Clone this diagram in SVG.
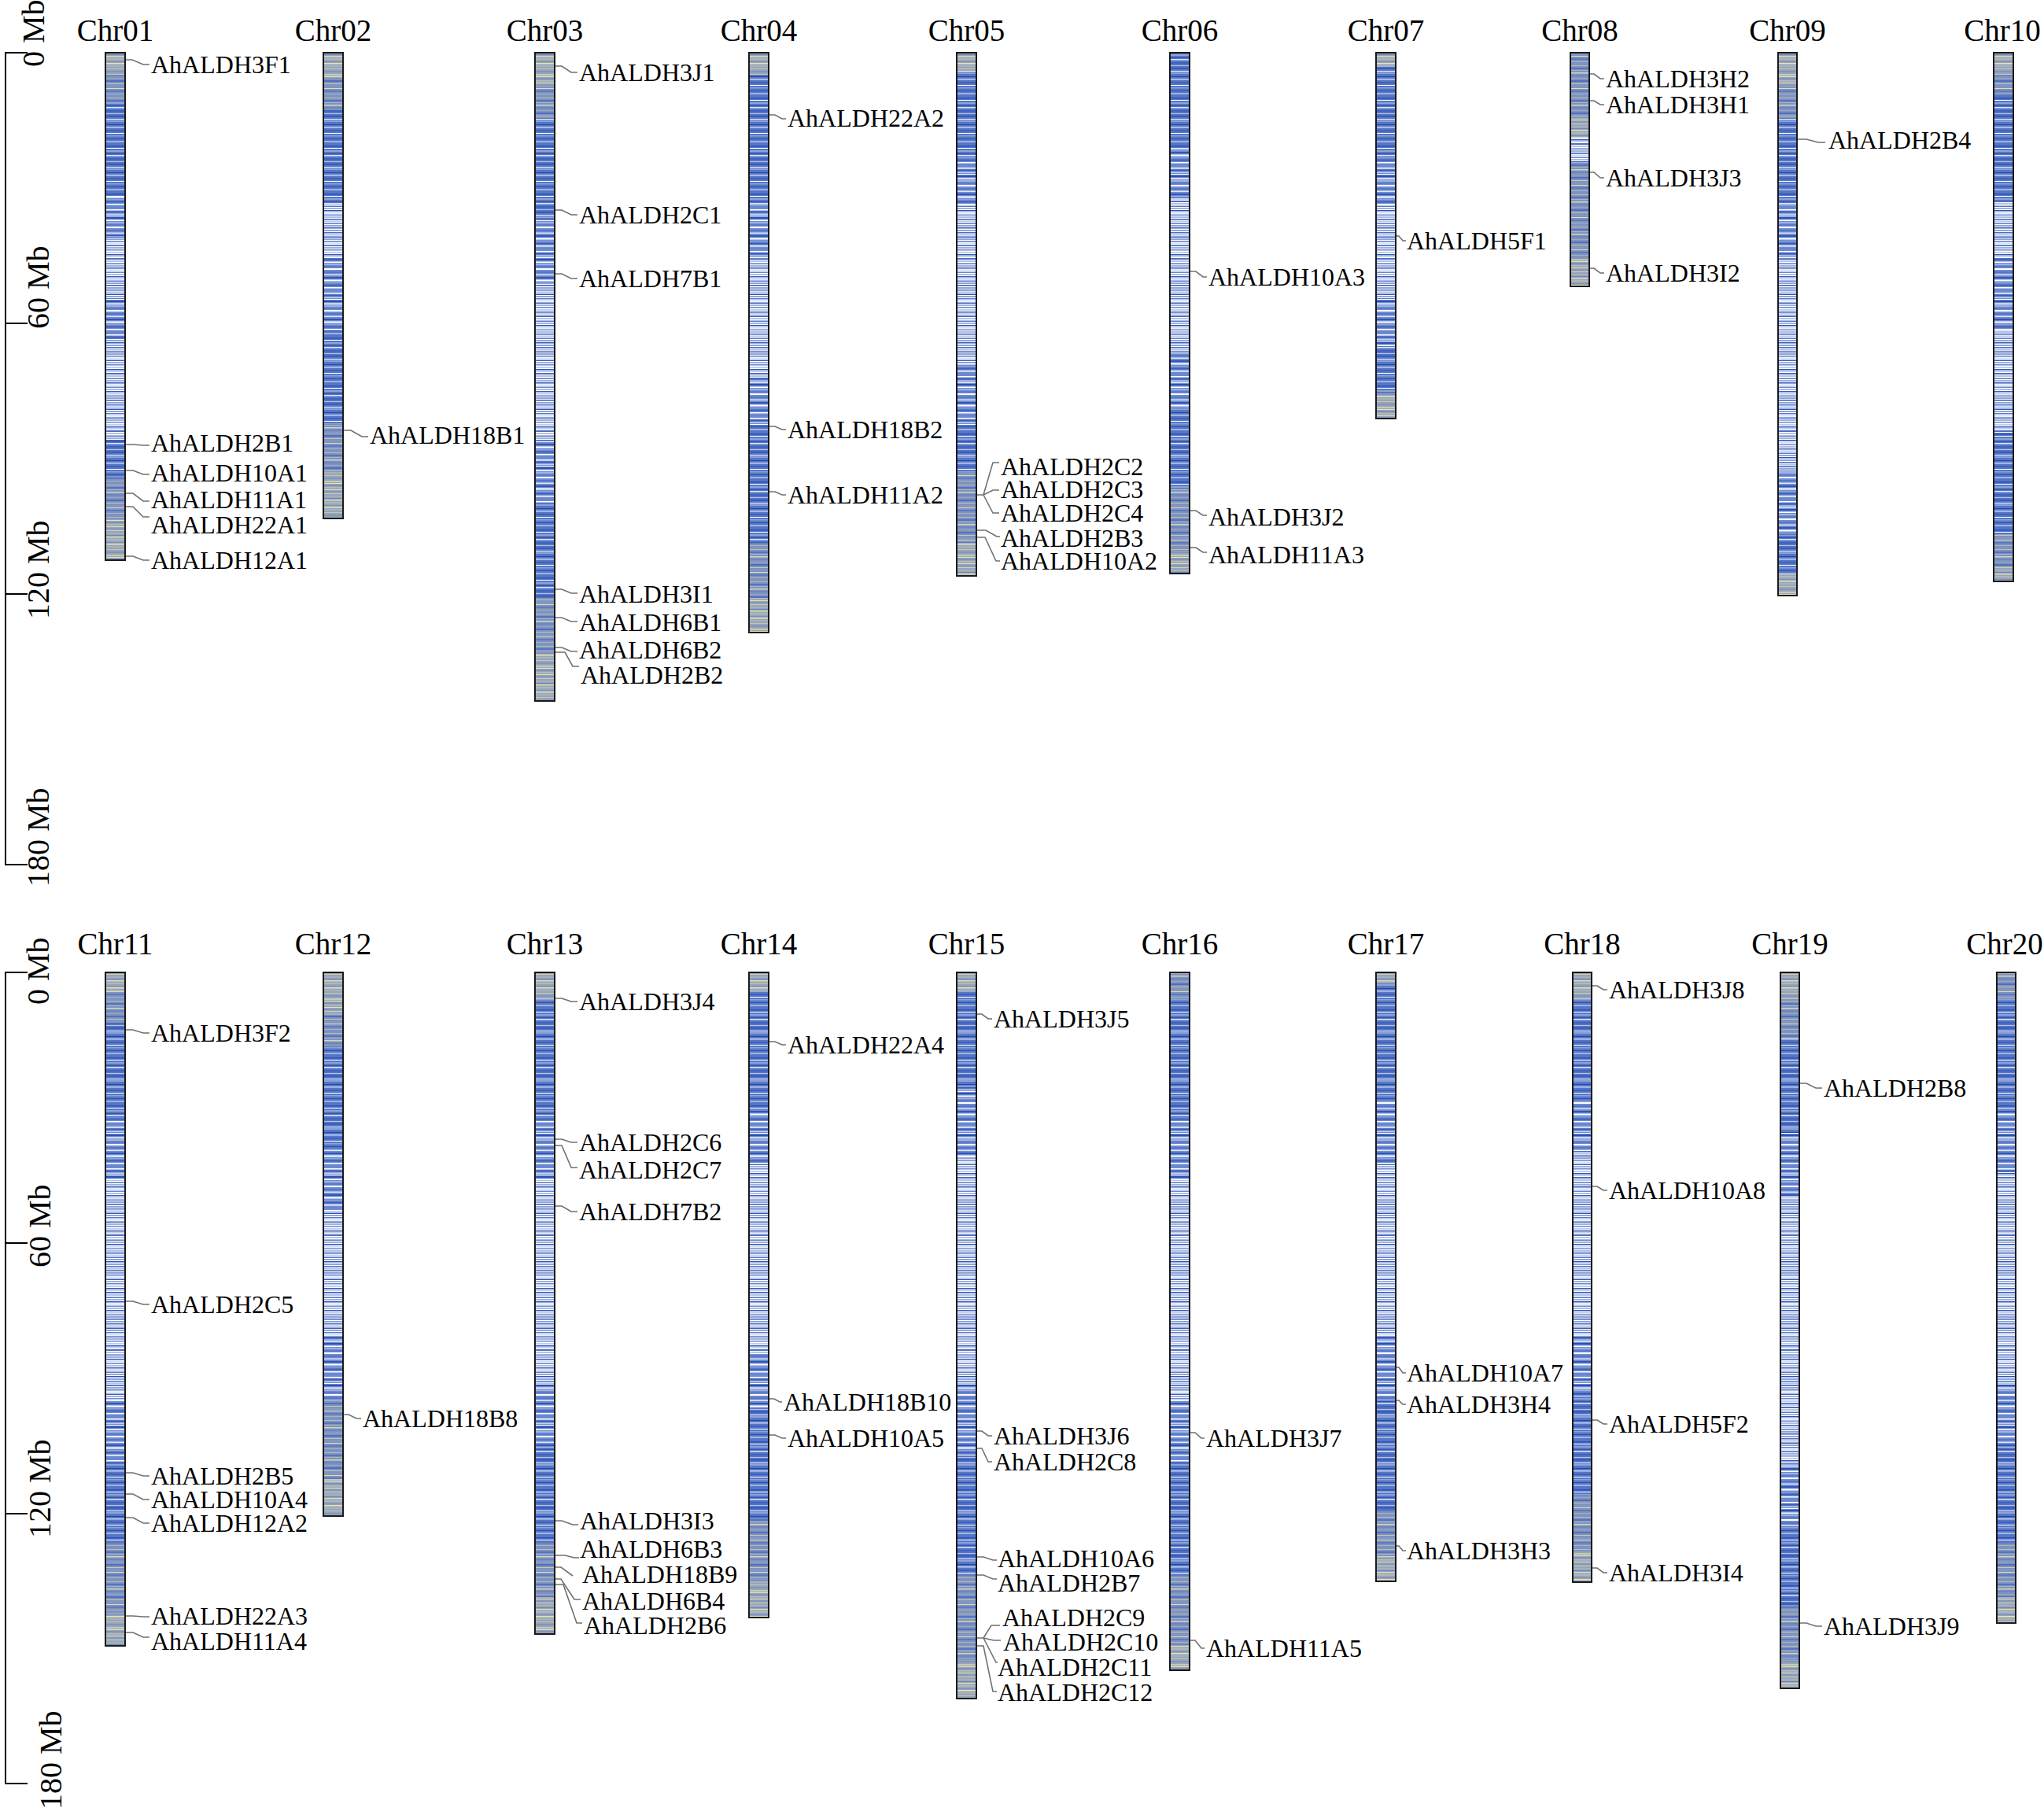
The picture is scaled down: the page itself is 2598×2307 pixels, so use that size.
<svg xmlns="http://www.w3.org/2000/svg" width="2598" height="2307" viewBox="0 0 2598 2307">
<style>
.cl{font-family:"Liberation Serif","Times New Roman",serif;font-size:39px;text-anchor:middle;fill:#000}
.gl{font-family:"Liberation Serif","Times New Roman",serif;font-size:32px;fill:#000}
.ax{font-family:"Liberation Serif","Times New Roman",serif;font-size:40px;fill:#000}
.cn{fill:none;stroke:#707070;stroke-width:1.6}
.ol{fill:none;stroke:#1a1a1a;stroke-width:2}
.axl{fill:none;stroke:#000;stroke-width:2}
.G{fill:url(#pG)}.H{fill:url(#pH)}.B{fill:url(#pB)}.M{fill:url(#pM)}.S{fill:url(#pS)}
</style>
<defs>
<pattern id="pG" width="30" height="47" patternUnits="userSpaceOnUse">
<rect width="30" height="47" fill="#97a5b9"/>
<rect y="0" width="30" height="2" fill="#c9cbb0"/><rect y="3" width="30" height="1" fill="#e8e4b2"/><rect y="5" width="30" height="2" fill="#7d92c2"/><rect y="8" width="30" height="1.5" fill="#b7bcb4"/><rect y="11" width="30" height="1" fill="#e4e0b4"/><rect y="13" width="30" height="2" fill="#8698c0"/><rect y="16" width="30" height="1" fill="#cfd0b0"/><rect y="19" width="30" height="2" fill="#a4afc0"/><rect y="22" width="30" height="1" fill="#6b85c4"/><rect y="24" width="30" height="1.5" fill="#ddd9b0"/><rect y="27" width="30" height="2" fill="#b0b8bc"/><rect y="31" width="30" height="1" fill="#7a8fc4"/><rect y="33" width="30" height="1.5" fill="#e6e3b6"/><rect y="36" width="30" height="2" fill="#a8b2be"/><rect y="40" width="30" height="1" fill="#c6c8ae"/><rect y="43" width="30" height="2" fill="#8195c4"/>
</pattern>
<pattern id="pH" width="30" height="41" patternUnits="userSpaceOnUse">
<rect width="30" height="41" fill="#7f93c0"/>
<rect y="1" width="30" height="1" fill="#b9bfb6"/><rect y="4" width="30" height="2" fill="#5574c4"/><rect y="7" width="30" height="1" fill="#a9b3c2"/><rect y="10" width="30" height="1.5" fill="#d6d5b2"/><rect y="13" width="30" height="2" fill="#6b86c6"/><rect y="17" width="30" height="1" fill="#9aa7c0"/><rect y="20" width="30" height="2" fill="#4e6fc4"/><rect y="24" width="30" height="1" fill="#c5c8b2"/><rect y="27" width="30" height="1.5" fill="#8799c2"/><rect y="30" width="30" height="1" fill="#e0ddb2"/><rect y="33" width="30" height="2" fill="#5c7ac6"/><rect y="37" width="30" height="1" fill="#aab4c0"/>
</pattern>
<pattern id="pB" width="30" height="61" patternUnits="userSpaceOnUse">
<rect width="30" height="61" fill="#5676c6"/>
<rect y="2" width="30" height="1.5" fill="#2a52b8"/><rect y="5" width="30" height="1" fill="#ffffff"/><rect y="8" width="30" height="2" fill="#8ea3d9"/><rect y="12" width="30" height="1" fill="#2a52b8"/><rect y="14" width="30" height="1.5" fill="#dfe5f6"/><rect y="18" width="30" height="2" fill="#3d62be"/><rect y="22" width="30" height="1" fill="#b4c2e6"/><rect y="25" width="30" height="1.5" fill="#2a52b8"/><rect y="29" width="30" height="1" fill="#ffffff"/><rect y="31" width="30" height="2" fill="#8ea3d9"/><rect y="36" width="30" height="1" fill="#1f48b0"/><rect y="39" width="30" height="1.5" fill="#c9d3ee"/><rect y="43" width="30" height="2" fill="#3d62be"/><rect y="47" width="30" height="1" fill="#ffffff"/><rect y="50" width="30" height="1.5" fill="#8ea3d9"/><rect y="54" width="30" height="1" fill="#2a52b8"/><rect y="57" width="30" height="2" fill="#a3b3dd"/>
</pattern>
<pattern id="pM" width="30" height="53" patternUnits="userSpaceOnUse">
<rect width="30" height="53" fill="#6f8bd1"/>
<rect y="1" width="30" height="1.5" fill="#ffffff"/><rect y="3.5" width="30" height="2" fill="#3b5fbe"/><rect y="6.5" width="30" height="1.5" fill="#c5d0ee"/><rect y="9" width="30" height="1" fill="#ffffff"/><rect y="11" width="30" height="2" fill="#2a52b8"/><rect y="14.5" width="30" height="1.5" fill="#ffffff"/><rect y="17" width="30" height="2" fill="#9fb1e2"/><rect y="20.5" width="30" height="1" fill="#4a6cc4"/><rect y="23" width="30" height="2" fill="#ffffff"/><rect y="27" width="30" height="2" fill="#5676c6"/><rect y="30.5" width="30" height="1.5" fill="#e0e6f6"/><rect y="34" width="30" height="2" fill="#2f56ba"/><rect y="37.5" width="30" height="2" fill="#ffffff"/><rect y="41" width="30" height="1" fill="#8ea3d9"/><rect y="43.5" width="30" height="2" fill="#3b5fbe"/><rect y="47" width="30" height="1.5" fill="#ffffff"/><rect y="50" width="30" height="2" fill="#6a86cf"/>
</pattern>
<pattern id="pS" width="30" height="73" patternUnits="userSpaceOnUse">
<rect width="30" height="73" fill="#ffffff"/>
<rect y="0" width="30" height="2" fill="#8ea3d9"/><rect y="3" width="30" height="1.5" fill="#4d6fc6"/><rect y="5.5" width="30" height="2" fill="#b4c2e6"/><rect y="8.5" width="30" height="1.5" fill="#2f56ba"/><rect y="11" width="30" height="2" fill="#8ea3d9"/><rect y="14" width="30" height="1.5" fill="#5b79c9"/><rect y="16.5" width="30" height="2" fill="#dbe2f4"/><rect y="19.5" width="30" height="1.5" fill="#3a5ebf"/><rect y="22" width="30" height="2" fill="#9fb1e2"/><rect y="25" width="30" height="1.5" fill="#6a86cf"/><rect y="28" width="30" height="2" fill="#c2cdee"/><rect y="31" width="30" height="1.5" fill="#2f56ba"/><rect y="33.5" width="30" height="1" fill="#8ea3d9"/><rect y="36" width="30" height="2" fill="#4d6fc6"/><rect y="39" width="30" height="2" fill="#b4c2e6"/><rect y="42.5" width="30" height="1.5" fill="#5676c6"/><rect y="45" width="30" height="2" fill="#9fb1e2"/><rect y="48" width="30" height="1.5" fill="#2a52b8"/><rect y="50.5" width="30" height="2" fill="#d6def2"/><rect y="53.5" width="30" height="1.5" fill="#6a86cf"/><rect y="56" width="30" height="2" fill="#aebde6"/><rect y="59" width="30" height="1.5" fill="#3a5ebf"/><rect y="61.5" width="30" height="2" fill="#c2cdee"/><rect y="64.5" width="30" height="1.5" fill="#5b79c9"/><rect y="67" width="30" height="2" fill="#8ea3d9"/><rect y="70" width="30" height="1.5" fill="#2f56ba"/>
</pattern>
</defs>
<rect width="2598" height="2307" fill="#ffffff"/>

<g id="axis-top">
<path class="axl" d="M35,67 H7 V1099 H35 M7,411 H35 M7,755 H35"/>
<text class="ax" transform="translate(56,85) rotate(-90)">0 Mb</text>
<text class="ax" transform="translate(62,418) rotate(-90)">60 Mb</text>
<text class="ax" transform="translate(62,787) rotate(-90)">120 Mb</text>
<text class="ax" transform="translate(62,1127) rotate(-90)">180 Mb</text>
</g>
<g id="axis-bottom">
<path class="axl" d="M35,1236 H7 V2267 H35 M7,1580 H35 M7,1924 H35"/>
<text class="ax" transform="translate(62,1277) rotate(-90)">0 Mb</text>
<text class="ax" transform="translate(64,1611) rotate(-90)">60 Mb</text>
<text class="ax" transform="translate(64,1955) rotate(-90)">120 Mb</text>
<text class="ax" transform="translate(78,2300) rotate(-90)">180 Mb</text>
</g>

<g id="chr01">
<rect class="G" x="134" y="67" width="25" height="28"/><rect class="H" x="134" y="95" width="25" height="35"/><rect class="B" x="134" y="130" width="25" height="120"/><rect class="M" x="134" y="250" width="25" height="50"/><rect class="S" x="134" y="300" width="25" height="80"/><rect class="M" x="134" y="380" width="25" height="50"/><rect class="S" x="134" y="430" width="25" height="130"/><rect class="B" x="134" y="560" width="25" height="45"/><rect class="H" x="134" y="605" width="25" height="55"/><rect class="G" x="134" y="660" width="25" height="52"/>
<rect class="ol" x="134" y="67" width="25" height="645"/>
<text class="cl" x="146.5" y="52">Chr01</text>
<text class="gl" x="192" y="93">AhALDH3F1</text>
<text class="gl" x="192" y="574">AhALDH2B1</text>
<text class="gl" x="192" y="612">AhALDH10A1</text>
<text class="gl" x="192" y="646">AhALDH11A1</text>
<text class="gl" x="192" y="678">AhALDH22A1</text>
<text class="gl" x="192" y="723">AhALDH12A1</text>
</g>
<g id="chr02">
<rect class="G" x="411" y="67" width="25" height="33"/><rect class="H" x="411" y="100" width="25" height="40"/><rect class="B" x="411" y="140" width="25" height="120"/><rect class="S" x="411" y="260" width="25" height="70"/><rect class="M" x="411" y="330" width="25" height="90"/><rect class="B" x="411" y="420" width="25" height="120"/><rect class="H" x="411" y="540" width="25" height="60"/><rect class="G" x="411" y="600" width="25" height="59"/>
<rect class="ol" x="411" y="67" width="25" height="592"/>
<text class="cl" x="423.5" y="52">Chr02</text>
<text class="gl" x="470" y="564">AhALDH18B1</text>
</g>
<g id="chr03">
<rect class="G" x="680" y="67" width="25" height="43"/><rect class="H" x="680" y="110" width="25" height="40"/><rect class="B" x="680" y="150" width="25" height="130"/><rect class="M" x="680" y="280" width="25" height="80"/><rect class="S" x="680" y="360" width="25" height="200"/><rect class="M" x="680" y="560" width="25" height="80"/><rect class="B" x="680" y="640" width="25" height="120"/><rect class="H" x="680" y="760" width="25" height="70"/><rect class="G" x="680" y="830" width="25" height="61"/>
<rect class="ol" x="680" y="67" width="25" height="824"/>
<text class="cl" x="692.5" y="52">Chr03</text>
<text class="gl" x="736" y="103">AhALDH3J1</text>
<text class="gl" x="736" y="284">AhALDH2C1</text>
<text class="gl" x="736" y="365">AhALDH7B1</text>
<text class="gl" x="736" y="766">AhALDH3I1</text>
<text class="gl" x="736" y="802">AhALDH6B1</text>
<text class="gl" x="736" y="837">AhALDH6B2</text>
<text class="gl" x="738" y="869">AhALDH2B2</text>
</g>
<g id="chr04">
<rect class="G" x="952" y="67" width="25" height="28"/><rect class="B" x="952" y="95" width="25" height="165"/><rect class="M" x="952" y="260" width="25" height="70"/><rect class="S" x="952" y="330" width="25" height="150"/><rect class="M" x="952" y="480" width="25" height="60"/><rect class="B" x="952" y="540" width="25" height="150"/><rect class="H" x="952" y="690" width="25" height="70"/><rect class="G" x="952" y="760" width="25" height="44"/>
<rect class="ol" x="952" y="67" width="25" height="737"/>
<text class="cl" x="964.5" y="52">Chr04</text>
<text class="gl" x="1001" y="161">AhALDH22A2</text>
<text class="gl" x="1001" y="557">AhALDH18B2</text>
<text class="gl" x="1001" y="640">AhALDH11A2</text>
</g>
<g id="chr05">
<rect class="G" x="1216" y="67" width="25" height="23"/><rect class="B" x="1216" y="90" width="25" height="110"/><rect class="M" x="1216" y="200" width="25" height="60"/><rect class="S" x="1216" y="260" width="25" height="200"/><rect class="M" x="1216" y="460" width="25" height="80"/><rect class="B" x="1216" y="540" width="25" height="60"/><rect class="H" x="1216" y="600" width="25" height="90"/><rect class="G" x="1216" y="690" width="25" height="42"/>
<rect class="ol" x="1216" y="67" width="25" height="665"/>
<text class="cl" x="1228.5" y="52">Chr05</text>
<text class="gl" x="1272" y="604">AhALDH2C2</text>
<text class="gl" x="1272" y="633">AhALDH2C3</text>
<text class="gl" x="1272" y="663">AhALDH2C4</text>
<text class="gl" x="1272" y="695">AhALDH2B3</text>
<text class="gl" x="1272" y="724">AhALDH10A2</text>
</g>
<g id="chr06">
<rect class="B" x="1487" y="67" width="25" height="123"/><rect class="M" x="1487" y="190" width="25" height="60"/><rect class="S" x="1487" y="250" width="25" height="200"/><rect class="M" x="1487" y="450" width="25" height="70"/><rect class="B" x="1487" y="520" width="25" height="100"/><rect class="H" x="1487" y="620" width="25" height="80"/><rect class="G" x="1487" y="700" width="25" height="29"/>
<rect class="ol" x="1487" y="67" width="25" height="662"/>
<text class="cl" x="1499.5" y="52">Chr06</text>
<text class="gl" x="1536" y="363">AhALDH10A3</text>
<text class="gl" x="1536" y="668">AhALDH3J2</text>
<text class="gl" x="1536" y="716">AhALDH11A3</text>
</g>
<g id="chr07">
<rect class="G" x="1749" y="67" width="25" height="18"/><rect class="B" x="1749" y="85" width="25" height="115"/><rect class="M" x="1749" y="200" width="25" height="60"/><rect class="S" x="1749" y="260" width="25" height="120"/><rect class="M" x="1749" y="380" width="25" height="60"/><rect class="B" x="1749" y="440" width="25" height="60"/><rect class="G" x="1749" y="500" width="25" height="32"/>
<rect class="ol" x="1749" y="67" width="25" height="465"/>
<text class="cl" x="1761.5" y="52">Chr07</text>
<text class="gl" x="1788" y="317">AhALDH5F1</text>
</g>
<g id="chr08">
<rect class="H" x="1996" y="67" width="24" height="83"/><rect class="G" x="1996" y="150" width="24" height="25"/><rect class="S" x="1996" y="175" width="24" height="32"/><rect class="H" x="1996" y="207" width="24" height="123"/><rect class="G" x="1996" y="330" width="24" height="34"/>
<rect class="ol" x="1996" y="67" width="24" height="297"/>
<text class="cl" x="2008" y="52">Chr08</text>
<text class="gl" x="2041" y="111">AhALDH3H2</text>
<text class="gl" x="2041" y="144">AhALDH3H1</text>
<text class="gl" x="2041" y="237">AhALDH3J3</text>
<text class="gl" x="2041" y="358">AhALDH3I2</text>
</g>
<g id="chr09">
<rect class="G" x="2260" y="67" width="24" height="43"/><rect class="H" x="2260" y="110" width="24" height="40"/><rect class="B" x="2260" y="150" width="24" height="110"/><rect class="M" x="2260" y="260" width="24" height="70"/><rect class="S" x="2260" y="330" width="24" height="270"/><rect class="M" x="2260" y="600" width="24" height="80"/><rect class="B" x="2260" y="680" width="24" height="50"/><rect class="G" x="2260" y="730" width="24" height="27"/>
<rect class="ol" x="2260" y="67" width="24" height="690"/>
<text class="cl" x="2272" y="52">Chr09</text>
<text class="gl" x="2324" y="189">AhALDH2B4</text>
</g>
<g id="chr10">
<rect class="G" x="2534" y="67" width="25" height="28"/><rect class="H" x="2534" y="95" width="25" height="25"/><rect class="B" x="2534" y="120" width="25" height="135"/><rect class="S" x="2534" y="255" width="25" height="75"/><rect class="M" x="2534" y="330" width="25" height="90"/><rect class="S" x="2534" y="420" width="25" height="130"/><rect class="B" x="2534" y="550" width="25" height="130"/><rect class="H" x="2534" y="680" width="25" height="40"/><rect class="G" x="2534" y="720" width="25" height="19"/>
<rect class="ol" x="2534" y="67" width="25" height="672"/>
<text class="cl" x="2545" y="52">Chr10</text>
</g>

<g id="chr11">
<rect class="G" x="134" y="1236" width="25" height="24"/><rect class="H" x="134" y="1260" width="25" height="40"/><rect class="B" x="134" y="1300" width="25" height="120"/><rect class="M" x="134" y="1420" width="25" height="80"/><rect class="S" x="134" y="1500" width="25" height="280"/><rect class="M" x="134" y="1780" width="25" height="80"/><rect class="B" x="134" y="1860" width="25" height="100"/><rect class="H" x="134" y="1960" width="25" height="90"/><rect class="G" x="134" y="2050" width="25" height="42"/>
<rect class="ol" x="134" y="1236" width="25" height="856"/>
<text class="cl" x="146.5" y="1213">Chr11</text>
<text class="gl" x="192" y="1324">AhALDH3F2</text>
<text class="gl" x="192" y="1669">AhALDH2C5</text>
<text class="gl" x="192" y="1887">AhALDH2B5</text>
<text class="gl" x="192" y="1917">AhALDH10A4</text>
<text class="gl" x="192" y="1947">AhALDH12A2</text>
<text class="gl" x="192" y="2065">AhALDH22A3</text>
<text class="gl" x="192" y="2097">AhALDH11A4</text>
</g>
<g id="chr12">
<rect class="G" x="411" y="1236" width="25" height="54"/><rect class="H" x="411" y="1290" width="25" height="40"/><rect class="B" x="411" y="1330" width="25" height="130"/><rect class="M" x="411" y="1460" width="25" height="80"/><rect class="S" x="411" y="1540" width="25" height="160"/><rect class="M" x="411" y="1700" width="25" height="80"/><rect class="H" x="411" y="1780" width="25" height="100"/><rect class="G" x="411" y="1880" width="25" height="47"/>
<rect class="ol" x="411" y="1236" width="25" height="691"/>
<text class="cl" x="423.5" y="1213">Chr12</text>
<text class="gl" x="461" y="1814">AhALDH18B8</text>
</g>
<g id="chr13">
<rect class="G" x="680" y="1236" width="25" height="34"/><rect class="B" x="680" y="1270" width="25" height="150"/><rect class="M" x="680" y="1420" width="25" height="80"/><rect class="S" x="680" y="1500" width="25" height="260"/><rect class="M" x="680" y="1760" width="25" height="80"/><rect class="B" x="680" y="1840" width="25" height="120"/><rect class="H" x="680" y="1960" width="25" height="70"/><rect class="G" x="680" y="2030" width="25" height="47"/>
<rect class="ol" x="680" y="1236" width="25" height="841"/>
<text class="cl" x="692.5" y="1213">Chr13</text>
<text class="gl" x="736" y="1284">AhALDH3J4</text>
<text class="gl" x="736" y="1463">AhALDH2C6</text>
<text class="gl" x="736" y="1498">AhALDH2C7</text>
<text class="gl" x="736" y="1551">AhALDH7B2</text>
<text class="gl" x="737" y="1944">AhALDH3I3</text>
<text class="gl" x="737" y="1980">AhALDH6B3</text>
<text class="gl" x="740" y="2012">AhALDH18B9</text>
<text class="gl" x="740" y="2046">AhALDH6B4</text>
<text class="gl" x="742" y="2077">AhALDH2B6</text>
</g>
<g id="chr14">
<rect class="G" x="952" y="1236" width="25" height="24"/><rect class="B" x="952" y="1260" width="25" height="150"/><rect class="M" x="952" y="1410" width="25" height="70"/><rect class="S" x="952" y="1480" width="25" height="240"/><rect class="M" x="952" y="1720" width="25" height="70"/><rect class="B" x="952" y="1790" width="25" height="140"/><rect class="H" x="952" y="1930" width="25" height="80"/><rect class="G" x="952" y="2010" width="25" height="46"/>
<rect class="ol" x="952" y="1236" width="25" height="820"/>
<text class="cl" x="964.5" y="1213">Chr14</text>
<text class="gl" x="1001" y="1339">AhALDH22A4</text>
<text class="gl" x="996" y="1793">AhALDH18B10</text>
<text class="gl" x="1001" y="1839">AhALDH10A5</text>
</g>
<g id="chr15">
<rect class="G" x="1216" y="1236" width="25" height="24"/><rect class="B" x="1216" y="1260" width="25" height="120"/><rect class="M" x="1216" y="1380" width="25" height="90"/><rect class="S" x="1216" y="1470" width="25" height="290"/><rect class="M" x="1216" y="1760" width="25" height="90"/><rect class="B" x="1216" y="1850" width="25" height="150"/><rect class="H" x="1216" y="2000" width="25" height="110"/><rect class="G" x="1216" y="2110" width="25" height="49"/>
<rect class="ol" x="1216" y="1236" width="25" height="923"/>
<text class="cl" x="1228.5" y="1213">Chr15</text>
<text class="gl" x="1263" y="1306">AhALDH3J5</text>
<text class="gl" x="1263" y="1836">AhALDH3J6</text>
<text class="gl" x="1263" y="1869">AhALDH2C8</text>
<text class="gl" x="1268" y="1992">AhALDH10A6</text>
<text class="gl" x="1268" y="2023">AhALDH2B7</text>
<text class="gl" x="1274" y="2067">AhALDH2C9</text>
<text class="gl" x="1275" y="2098">AhALDH2C10</text>
<text class="gl" x="1268" y="2130">AhALDH2C11</text>
<text class="gl" x="1268" y="2162">AhALDH2C12</text>
</g>
<g id="chr16">
<rect class="H" x="1487" y="1236" width="25" height="34"/><rect class="B" x="1487" y="1270" width="25" height="150"/><rect class="M" x="1487" y="1420" width="25" height="80"/><rect class="S" x="1487" y="1500" width="25" height="280"/><rect class="M" x="1487" y="1780" width="25" height="80"/><rect class="B" x="1487" y="1860" width="25" height="140"/><rect class="H" x="1487" y="2000" width="25" height="90"/><rect class="G" x="1487" y="2090" width="25" height="33"/>
<rect class="ol" x="1487" y="1236" width="25" height="887"/>
<text class="cl" x="1499.5" y="1213">Chr16</text>
<text class="gl" x="1533" y="1839">AhALDH3J7</text>
<text class="gl" x="1533" y="2106">AhALDH11A5</text>
</g>
<g id="chr17">
<rect class="G" x="1749" y="1236" width="25" height="14"/><rect class="B" x="1749" y="1250" width="25" height="150"/><rect class="M" x="1749" y="1400" width="25" height="80"/><rect class="S" x="1749" y="1480" width="25" height="220"/><rect class="M" x="1749" y="1700" width="25" height="80"/><rect class="B" x="1749" y="1780" width="25" height="140"/><rect class="H" x="1749" y="1920" width="25" height="60"/><rect class="G" x="1749" y="1980" width="25" height="30"/>
<rect class="ol" x="1749" y="1236" width="25" height="774"/>
<text class="cl" x="1761.5" y="1213">Chr17</text>
<text class="gl" x="1788" y="1756">AhALDH10A7</text>
<text class="gl" x="1788" y="1796">AhALDH3H4</text>
<text class="gl" x="1788" y="1982">AhALDH3H3</text>
</g>
<g id="chr18">
<rect class="G" x="1999" y="1236" width="24" height="34"/><rect class="B" x="1999" y="1270" width="24" height="130"/><rect class="M" x="1999" y="1400" width="24" height="60"/><rect class="S" x="1999" y="1460" width="24" height="240"/><rect class="M" x="1999" y="1700" width="24" height="70"/><rect class="B" x="1999" y="1770" width="24" height="130"/><rect class="H" x="1999" y="1900" width="24" height="70"/><rect class="G" x="1999" y="1970" width="24" height="41"/>
<rect class="ol" x="1999" y="1236" width="24" height="775"/>
<text class="cl" x="2011" y="1213">Chr18</text>
<text class="gl" x="2045" y="1269">AhALDH3J8</text>
<text class="gl" x="2045" y="1524">AhALDH10A8</text>
<text class="gl" x="2045" y="1821">AhALDH5F2</text>
<text class="gl" x="2045" y="2010">AhALDH3I4</text>
</g>
<g id="chr19">
<rect class="G" x="2263" y="1236" width="24" height="34"/><rect class="H" x="2263" y="1270" width="24" height="50"/><rect class="B" x="2263" y="1320" width="24" height="120"/><rect class="M" x="2263" y="1440" width="24" height="80"/><rect class="S" x="2263" y="1520" width="24" height="340"/><rect class="M" x="2263" y="1860" width="24" height="80"/><rect class="B" x="2263" y="1940" width="24" height="100"/><rect class="H" x="2263" y="2040" width="24" height="70"/><rect class="G" x="2263" y="2110" width="24" height="36"/>
<rect class="ol" x="2263" y="1236" width="24" height="910"/>
<text class="cl" x="2275" y="1213">Chr19</text>
<text class="gl" x="2318" y="1394">AhALDH2B8</text>
<text class="gl" x="2318" y="2078">AhALDH3J9</text>
</g>
<g id="chr20">
<rect class="H" x="2538" y="1236" width="24" height="34"/><rect class="B" x="2538" y="1270" width="24" height="140"/><rect class="M" x="2538" y="1410" width="24" height="80"/><rect class="S" x="2538" y="1490" width="24" height="270"/><rect class="M" x="2538" y="1760" width="24" height="80"/><rect class="B" x="2538" y="1840" width="24" height="120"/><rect class="H" x="2538" y="1960" width="24" height="70"/><rect class="G" x="2538" y="2030" width="24" height="33"/>
<rect class="ol" x="2538" y="1236" width="24" height="827"/>
<text class="cl" x="2548" y="1213">Chr20</text>
</g>

<g id="connectors">
<path class="cn" d="M160,76 H168 L182,82 H190"/>
<path class="cn" d="M160,565 H169 L182,566 H190"/>
<path class="cn" d="M160,598 H169 L182,603 H190"/>
<path class="cn" d="M160,627 H169 L182,637 H190"/>
<path class="cn" d="M160,644 H169 L182,657 H190"/>
<path class="cn" d="M160,707 H169 L182,712 H190"/>
<path class="cn" d="M437,547 H446 L460,555 H468"/>
<path class="cn" d="M706,84 H714 L726,92 H734"/>
<path class="cn" d="M706,267 H714 L726,273 H734"/>
<path class="cn" d="M706,348 H714 L726,354 H734"/>
<path class="cn" d="M706,749 H714 L726,754 H734"/>
<path class="cn" d="M706,785 H714 L726,790 H734"/>
<path class="cn" d="M706,823 H714 L726,828 H734"/>
<path class="cn" d="M706,829 H718 L728,847 H736"/>
<path class="cn" d="M978,146 H985 L994,151 H999"/>
<path class="cn" d="M978,542 H985 L994,546 H999"/>
<path class="cn" d="M978,625 H985 L994,629 H999"/>
<path class="cn" d="M1242,629 H1250 L1262,588 H1270 M1250,629 L1262,623 H1270 M1250,629 L1262,652 H1270"/>
<path class="cn" d="M1242,674 H1253 L1267,682 H1271"/>
<path class="cn" d="M1242,683 H1252 L1266,713 H1271"/>
<path class="cn" d="M1513,345 H1520 L1529,352 H1534"/>
<path class="cn" d="M1513,649 H1520 L1529,655 H1534"/>
<path class="cn" d="M1513,696 H1520 L1529,702 H1534"/>
<path class="cn" d="M1775,300 H1778 L1783,306 H1787"/>
<path class="cn" d="M2021,94 H2026 L2034,100 H2039"/>
<path class="cn" d="M2021,128 H2026 L2034,133 H2039"/>
<path class="cn" d="M2021,219 H2026 L2034,226 H2039"/>
<path class="cn" d="M2021,341 H2026 L2034,347 H2039"/>
<path class="cn" d="M2285,177 H2296 L2311,181 H2320"/>

<path class="cn" d="M160,1309 H169 L182,1313 H190"/>
<path class="cn" d="M160,1654 H169 L182,1658 H190"/>
<path class="cn" d="M160,1872 H169 L182,1876 H190"/>
<path class="cn" d="M160,1899 H169 L182,1906 H190"/>
<path class="cn" d="M160,1929 H169 L182,1936 H190"/>
<path class="cn" d="M160,2054 H169 L182,2055 H190"/>
<path class="cn" d="M160,2075 H169 L182,2081 H190"/>
<path class="cn" d="M437,1798 H443 L453,1803 H459"/>
<path class="cn" d="M706,1269 H714 L726,1273 H734"/>
<path class="cn" d="M706,1448 H714 L726,1452 H734"/>
<path class="cn" d="M706,1456 H714 L726,1484 H734"/>
<path class="cn" d="M706,1533 H714 L726,1540 H734"/>
<path class="cn" d="M706,1933 H714 L728,1938 H735"/>
<path class="cn" d="M706,1977 H718 L730,1980 H736"/>
<path class="cn" d="M706,1992 H713 L728,2003"/>
<path class="cn" d="M706,2007 H713 L730,2033 H738"/>
<path class="cn" d="M706,2014 H716 L733,2063 H740"/>
<path class="cn" d="M978,1324 H985 L994,1328 H999"/>
<path class="cn" d="M978,1778 H984 L991,1782 H994"/>
<path class="cn" d="M978,1824 H985 L994,1828 H999"/>
<path class="cn" d="M1242,1289 H1248 L1256,1295 H1261"/>
<path class="cn" d="M1242,1819 H1248 L1256,1825 H1261"/>
<path class="cn" d="M1242,1841 H1248 L1256,1858 H1261"/>
<path class="cn" d="M1242,1979 H1250 L1262,1983 H1267"/>
<path class="cn" d="M1242,2002 H1250 L1262,2007 H1267"/>
<path class="cn" d="M1242,2082 H1250 L1260,2066 H1271 M1250,2082 L1263,2085 H1272 M1250,2082 L1266,2113 H1268"/>
<path class="cn" d="M1242,2092 H1250 L1262,2150 H1267"/>
<path class="cn" d="M1513,1821 H1519 L1527,1828 H1531"/>
<path class="cn" d="M1513,2085 H1519 L1527,2095 H1531"/>
<path class="cn" d="M1775,1738 H1778 L1783,1745 H1787"/>
<path class="cn" d="M1775,1780 H1778 L1783,1785 H1787"/>
<path class="cn" d="M1775,1965 H1778 L1783,1971 H1787"/>
<path class="cn" d="M2024,1253 H2030 L2038,1258 H2043"/>
<path class="cn" d="M2024,1508 H2030 L2038,1513 H2043"/>
<path class="cn" d="M2024,1805 H2030 L2038,1810 H2043"/>
<path class="cn" d="M2024,1993 H2030 L2038,1999 H2043"/>
<path class="cn" d="M2288,1377 H2296 L2308,1383 H2316"/>
<path class="cn" d="M2288,2063 H2296 L2308,2067 H2316"/>
</g>
</svg>
